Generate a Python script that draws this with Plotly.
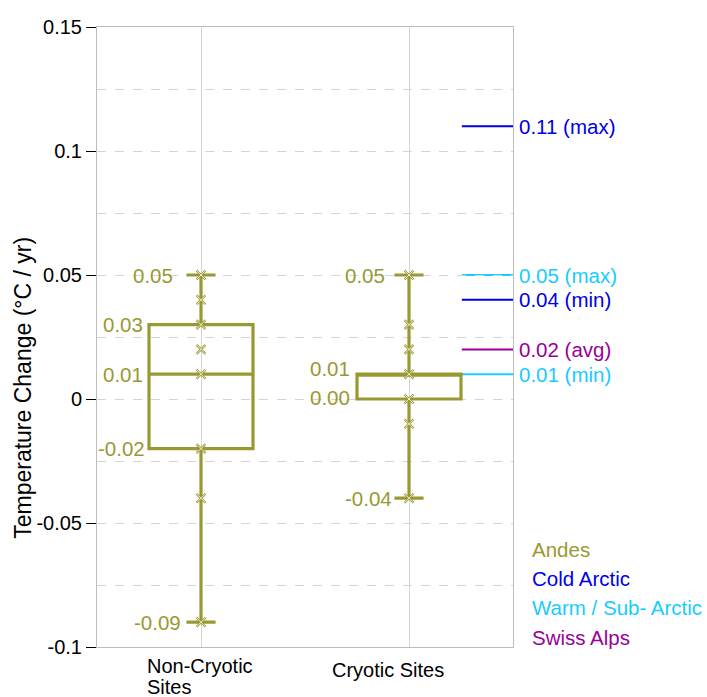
import numpy as np
import plotly.graph_objects as go

# ---- data -------------------------------------------------------------
categories = ["Non-Cryotic", "Cryotic Sites"]
cat_pos = [0, 1]

# box statistics per group
q1 = [-0.02, 0.00]
median = [0.01, 0.01]
q3 = [0.03, 0.01]
lower = [-0.09, -0.04]
upper = [0.05, 0.05]

# individual site values
non_cryotic_pts = [0.05, 0.04, 0.03, 0.02, 0.01, -0.02, -0.04, -0.09]
cryotic_pts = [0.05, 0.03, 0.02, 0.01, 0.00, -0.01, -0.04]

# reference values from other regions
ref_values = [0.11, 0.05, 0.04, 0.02, 0.01]
ref_kinds = ["max", "max", "min", "avg", "min"]
ref_region = ["Cold Arctic", "Warm / Sub- Arctic", "Cold Arctic", "Swiss Alps", "Warm / Sub- Arctic"]

regions = ["Andes", "Cold Arctic", "Warm / Sub- Arctic", "Swiss Alps"]
region_colors = {
    "Andes": "#999933",
    "Cold Arctic": "#0000e6",
    "Warm / Sub- Arctic": "#18ccff",
    "Swiss Alps": "#990099",
}

y_tickvals = [-0.1, -0.05, 0, 0.05, 0.1, 0.15]
y_ticktext = ["-0.1", "-0.05", "0", "0.05", "0.1", "0.15"]

# ---- figure -----------------------------------------------------------
FONT = "Arial, 'Liberation Sans', sans-serif"
OLIVE = region_colors["Andes"]
GRID = "#d4d4d4"
TXT = 20.5

fig = go.Figure()

for i, pos in enumerate(cat_pos):
    fig.add_trace(go.Box(
        x=[pos], q1=[q1[i]], median=[median[i]], q3=[q3[i]],
        lowerfence=[lower[i]], upperfence=[upper[i]],
        width=0.5, whiskerwidth=0.28,
        line=dict(color=OLIVE, width=3.2),
        fillcolor="rgba(0,0,0,0)",
        boxpoints=False, hoverinfo="skip",
    ))

# site markers: olive-edged light crosses
for pos, pts in zip(cat_pos, [non_cryotic_pts, cryotic_pts]):
    for col, lw in [(OLIVE, 2.2), ("#f6f6e0", 0.9)]:
        fig.add_trace(go.Scatter(
            x=[pos] * len(pts), y=pts, mode="markers",
            marker=dict(symbol="x-thin", size=9, color=col,
                        line=dict(color=col, width=lw)),
            hoverinfo="skip",
        ))

# reference segments on the right of the plot
for v, kind, reg in zip(ref_values, ref_kinds, ref_region):
    col = region_colors[reg]
    fig.add_shape(type="line", xref="x domain", yref="y",
                  x0=0.877, x1=1.0, y0=v, y1=v,
                  line=dict(color=col, width=2), layer="below")
    fig.add_annotation(xref="paper", yref="y", x=1.0, y=v,
                       xanchor="left", yanchor="middle", xshift=4,
                       text=f"{v:.2f} ({kind})", showarrow=False,
                       font=dict(family=FONT, size=TXT, color=col))

# value labels next to the boxes
label_sets = [
    # (value, pixel offset from the category centre, vertical shift)
    [(upper[0], -26, 0), (q3[0], -56, 0), (median[0], -56, 0),
     (q1[0], -54, 0), (lower[0], -18, 0)],
    [(upper[1], -22, 0), (q3[1], -57, 6), (q1[1], -57, 2),
     (lower[1], -15, 0)],
]
for pos, labels in zip(cat_pos, label_sets):
    for v, dx, dy in labels:
        fig.add_annotation(xref="x", yref="y", x=pos, y=v,
                           xanchor="right", yanchor="middle",
                           xshift=dx, yshift=dy,
                           text=f"{v:.2f}", showarrow=False,
                           font=dict(family=FONT, size=TXT, color=OLIVE))

# region key
for k, reg in enumerate(regions):
    fig.add_annotation(xref="paper", yref="paper", x=1.0,
                       y=0.158 - k * 0.0473,
                       xanchor="left", yanchor="middle", xshift=17,
                       text=reg, showarrow=False,
                       font=dict(family=FONT, size=TXT, color=region_colors[reg]))

# category labels
fig.add_annotation(xref="x", yref="paper", x=cat_pos[0], y=-0.031,
                   xanchor="left", yanchor="middle", xshift=-56,
                   text="Non-Cryotic", showarrow=False,
                   font=dict(family=FONT, size=20, color="black"))
fig.add_annotation(xref="x", yref="paper", x=cat_pos[0], y=-0.065,
                   xanchor="left", yanchor="middle", xshift=-56,
                   text="Sites", showarrow=False,
                   font=dict(family=FONT, size=20, color="black"))
fig.add_annotation(xref="x", yref="paper", x=cat_pos[1], y=-0.037,
                   xanchor="left", yanchor="middle", xshift=-79,
                   text=categories[1], showarrow=False,
                   font=dict(family=FONT, size=20, color="black"))

# y-axis title
fig.add_annotation(xref="paper", yref="paper", x=-0.178, y=0.418,
                   xanchor="center", yanchor="middle", textangle=-90,
                   text="Temperature Change (°C / yr)", showarrow=False,
                   font=dict(family=FONT, size=23, color="black"))

minor_vals = list(np.round(np.arange(-0.075, 0.15, 0.05), 3))

fig.update_layout(
    width=707, height=697,
    margin=dict(l=97, r=194, t=27, b=50),
    paper_bgcolor="white", plot_bgcolor="white",
    showlegend=False,
    font=dict(family=FONT, size=20, color="black"),
    xaxis=dict(
        range=[-0.5, 1.5], tickvals=cat_pos, showticklabels=False,
        ticks="", showgrid=True, gridcolor=GRID, gridwidth=1,
        zeroline=False, showline=True, linecolor="#bdbdbd",
        linewidth=1, mirror=True,
    ),
    yaxis=dict(
        range=[-0.1, 0.15], tickmode="array",
        tickvals=y_tickvals, ticktext=y_ticktext,
        ticks="outside", ticklen=10, tickcolor="black", tickwidth=1,
        tickfont=dict(family=FONT, size=20, color="black"),
        showgrid=True, gridcolor=GRID, griddash="9px,9px", gridwidth=1,
        zeroline=False, showline=True, linecolor="#bdbdbd",
        linewidth=1, mirror=True,
        minor=dict(tickmode="array", tickvals=minor_vals, showgrid=True,
                   gridcolor=GRID, griddash="9px,9px", ticks=""),
    ),
)

fig.write_html("out.html")
